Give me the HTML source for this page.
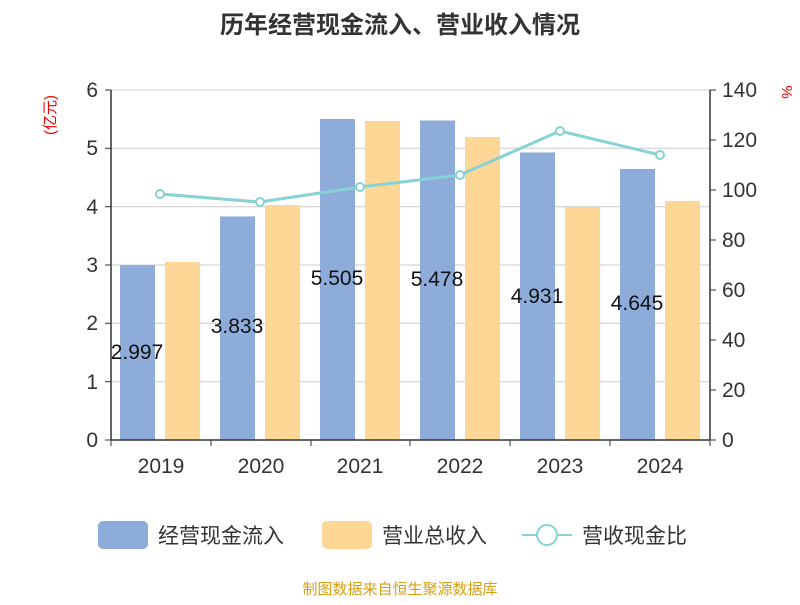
<!DOCTYPE html>
<html><head><meta charset="utf-8"><style>
body{margin:0;background:#fff;}
svg text{font-family:"Liberation Sans","Noto Sans CJK SC",sans-serif;}
</style></head><body>
<svg width="800" height="600" xmlns="http://www.w3.org/2000/svg">
<text x="400" y="33" text-anchor="middle" font-size="24" font-weight="bold" fill="#333">历年经营现金流入、营业收入情况</text>
<g stroke="#ccc" stroke-width="1">
<line x1="111" y1="90" x2="710" y2="90"/>
<line x1="111" y1="148.3" x2="710" y2="148.3"/>
<line x1="111" y1="206.7" x2="710" y2="206.7"/>
<line x1="111" y1="265" x2="710" y2="265"/>
<line x1="111" y1="323.3" x2="710" y2="323.3"/>
<line x1="111" y1="381.7" x2="710" y2="381.7"/>
</g>
<g fill="#8eacd9">
<rect x="120" y="265.2" width="35" height="174.8"/>
<rect x="220" y="216.4" width="35" height="223.6"/>
<rect x="320" y="118.9" width="35" height="321.1"/>
<rect x="420" y="120.5" width="35" height="319.5"/>
<rect x="520" y="152.4" width="35" height="287.6"/>
<rect x="620" y="169.0" width="35" height="271"/>
</g>
<g fill="#fed796">
<rect x="165" y="262" width="35" height="178"/>
<rect x="265" y="205" width="35" height="235"/>
<rect x="365" y="121" width="35" height="319"/>
<rect x="465" y="137" width="35" height="303"/>
<rect x="565" y="207" width="35" height="233"/>
<rect x="665" y="201" width="35" height="239"/>
</g>
<polyline points="160,194 260,202 360,187 460,175 560,131 660,155" fill="none" stroke="#86d2d4" stroke-width="3"/>
<g fill="#fff" stroke="#86d2d4" stroke-width="2">
<circle cx="160" cy="194" r="4"/><circle cx="260" cy="202" r="4"/><circle cx="360" cy="187" r="4"/>
<circle cx="460" cy="175" r="4"/><circle cx="560" cy="131" r="4"/><circle cx="660" cy="155" r="4"/>
</g>
<g font-size="21" fill="#111" text-anchor="middle">
<text x="137" y="359">2.997</text><text x="237" y="333">3.833</text><text x="337" y="285">5.505</text>
<text x="437" y="286">5.478</text><text x="537" y="303">4.931</text><text x="637" y="310">4.645</text>
</g>
<g stroke="#333" stroke-width="1.5">
<line x1="111" y1="90" x2="111" y2="440"/><line x1="710" y1="90" x2="710" y2="440"/>
<line x1="111" y1="440" x2="710" y2="440"/>
</g>
<g stroke="#333" stroke-width="1">
<line x1="105" y1="90" x2="111" y2="90"/><line x1="105" y1="148.3" x2="111" y2="148.3"/><line x1="105" y1="206.7" x2="111" y2="206.7"/><line x1="105" y1="265" x2="111" y2="265"/><line x1="105" y1="323.3" x2="111" y2="323.3"/><line x1="105" y1="381.7" x2="111" y2="381.7"/><line x1="105" y1="440" x2="111" y2="440"/>
<line x1="710" y1="90" x2="716" y2="90"/><line x1="710" y1="140" x2="716" y2="140"/><line x1="710" y1="190" x2="716" y2="190"/><line x1="710" y1="240" x2="716" y2="240"/><line x1="710" y1="290" x2="716" y2="290"/><line x1="710" y1="340" x2="716" y2="340"/><line x1="710" y1="390" x2="716" y2="390"/><line x1="710" y1="440" x2="716" y2="440"/>
<line x1="111" y1="440" x2="111" y2="446"/><line x1="211" y1="440" x2="211" y2="446"/><line x1="311" y1="440" x2="311" y2="446"/><line x1="410" y1="440" x2="410" y2="446"/><line x1="510" y1="440" x2="510" y2="446"/><line x1="610" y1="440" x2="610" y2="446"/><line x1="710" y1="440" x2="710" y2="446"/>
</g>
<g font-size="21" fill="#333" text-anchor="end">
<text x="98" y="97">6</text><text x="98" y="155">5</text><text x="98" y="214">4</text><text x="98" y="272">3</text><text x="98" y="330">2</text><text x="98" y="389">1</text><text x="98" y="447">0</text>
</g>
<g font-size="21" fill="#333" text-anchor="start">
<text x="722" y="97">140</text><text x="722" y="147">120</text><text x="722" y="197">100</text><text x="722" y="247">80</text><text x="722" y="297">60</text><text x="722" y="347">40</text><text x="722" y="397">20</text><text x="722" y="447">0</text>
</g>
<g font-size="21" fill="#333" text-anchor="middle">
<text x="161" y="473">2019</text><text x="261" y="473">2020</text><text x="360" y="473">2021</text><text x="460" y="473">2022</text><text x="560" y="473">2023</text><text x="660" y="473">2024</text>
</g>
<text transform="translate(55,115) rotate(-90)" font-size="15" fill="#e00" text-anchor="middle">(亿元)</text>
<text transform="translate(782,92) rotate(90)" font-size="15" fill="#e00" text-anchor="middle">%</text>
<rect x="98" y="521" width="50" height="28" rx="5" fill="#8eacd9"/>
<text x="158" y="543" font-size="21" fill="#333">经营现金流入</text>
<rect x="322" y="521" width="50" height="28" rx="5" fill="#fed796"/>
<text x="382" y="543" font-size="21" fill="#333">营业总收入</text>
<line x1="522" y1="535" x2="572" y2="535" stroke="#86d2d4" stroke-width="2"/>
<circle cx="547" cy="535" r="10" fill="#fff" stroke="#86d2d4" stroke-width="2"/>
<text x="582" y="543" font-size="21" fill="#333">营收现金比</text>
<text x="400" y="594" font-size="15" fill="#d4a017" text-anchor="middle">制图数据来自恒生聚源数据库</text>
</svg>
</body></html>
